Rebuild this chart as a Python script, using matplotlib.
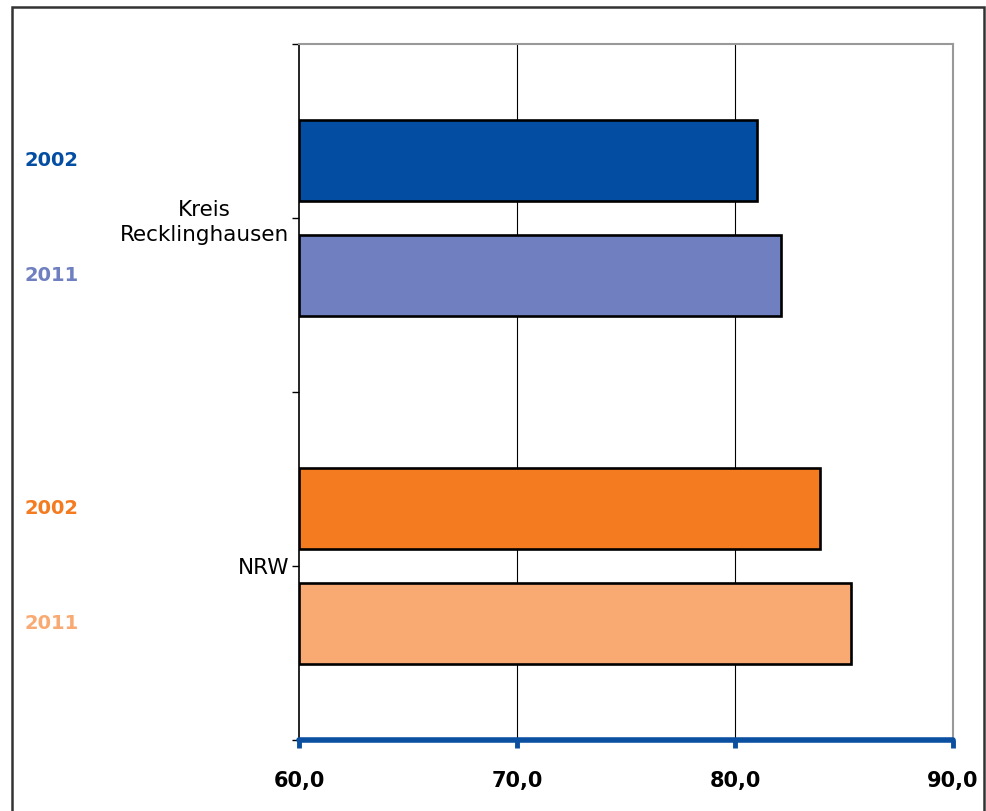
import matplotlib.pyplot as plt
import matplotlib.transforms as mtransforms
from matplotlib.patches import Rectangle

# Daten
kategorien = ["Kreis\nRecklinghausen", "NRW"]
jahre = ["2002", "2011"]
werte_2002 = [81.0, 83.9]
werte_2011 = [82.1, 85.3]
farben_2002 = ["#034EA2", "#F47B20"]
farben_2011 = ["#6F7FBF", "#F9AA72"]
x_ticks = [60, 70, 80, 90]

fig = plt.figure(figsize=(9.87, 8.11), dpi=100)
ax = fig.add_axes([299 / 987, 71 / 811, 654 / 987, 696 / 811])

pos = [0.5, 1.5]
h = 0.233
off = 0.164
for i in range(len(kategorien)):
    ax.barh(pos[i] - off, werte_2002[i] - 60, left=60, height=h,
            color=farben_2002[i], edgecolor="black", linewidth=1.9, zorder=3)
    ax.barh(pos[i] + off, werte_2011[i] - 60, left=60, height=h,
            color=farben_2011[i], edgecolor="black", linewidth=1.9, zorder=3)

ax.set_xlim(60, 90)
ax.set_ylim(2, 0)

# Achsen
ax.set_xticks(x_ticks)
ax.set_xticklabels([f"{v:.1f}".replace(".", ",") for v in x_ticks],
                   fontsize=15, fontweight="bold")
ax.set_yticks([0, 0.5, 1, 1.5, 2])
ax.set_yticklabels(["", kategorien[0], "", kategorien[1], ""], fontsize=15.5)
for lbl in ax.get_yticklabels():
    lbl.set_multialignment("center")
    lbl.set_linespacing(1.3)
ax.tick_params(axis="y", length=5, width=1, color="black", pad=2)
ax.tick_params(axis="x", length=6, width=3.5, color="#0A4FA0", pad=16)

for x in [70, 80]:
    ax.axvline(x, color="black", linewidth=0.8, zorder=1)

ax.spines["left"].set_color("black")
ax.spines["left"].set_linewidth(1.2)
ax.spines["top"].set_color("#999999")
ax.spines["top"].set_linewidth(1.5)
ax.spines["right"].set_color("#999999")
ax.spines["right"].set_linewidth(1.5)
ax.spines["bottom"].set_color("#0A4FA0")
ax.spines["bottom"].set_linewidth(4)
ax.spines["bottom"].set_capstyle("round")

# Jahreszahlen links
trans = mtransforms.blended_transform_factory(fig.transFigure, ax.transData)
for i in range(len(kategorien)):
    ax.text(25 / 987, pos[i] - off, jahre[0], transform=trans, color=farben_2002[i],
            fontsize=14, fontweight="bold", va="center", ha="left")
    ax.text(25 / 987, pos[i] + off, jahre[1], transform=trans, color=farben_2011[i],
            fontsize=14, fontweight="bold", va="center", ha="left")

# Rahmen
fig.patches.append(Rectangle((12 / 987, -0.01), 972 / 987, (811 - 7) / 811 + 0.01,
                             transform=fig.transFigure, fill=False,
                             edgecolor="#333333", linewidth=1.8))

fig.savefig("out.png", dpi=100)
